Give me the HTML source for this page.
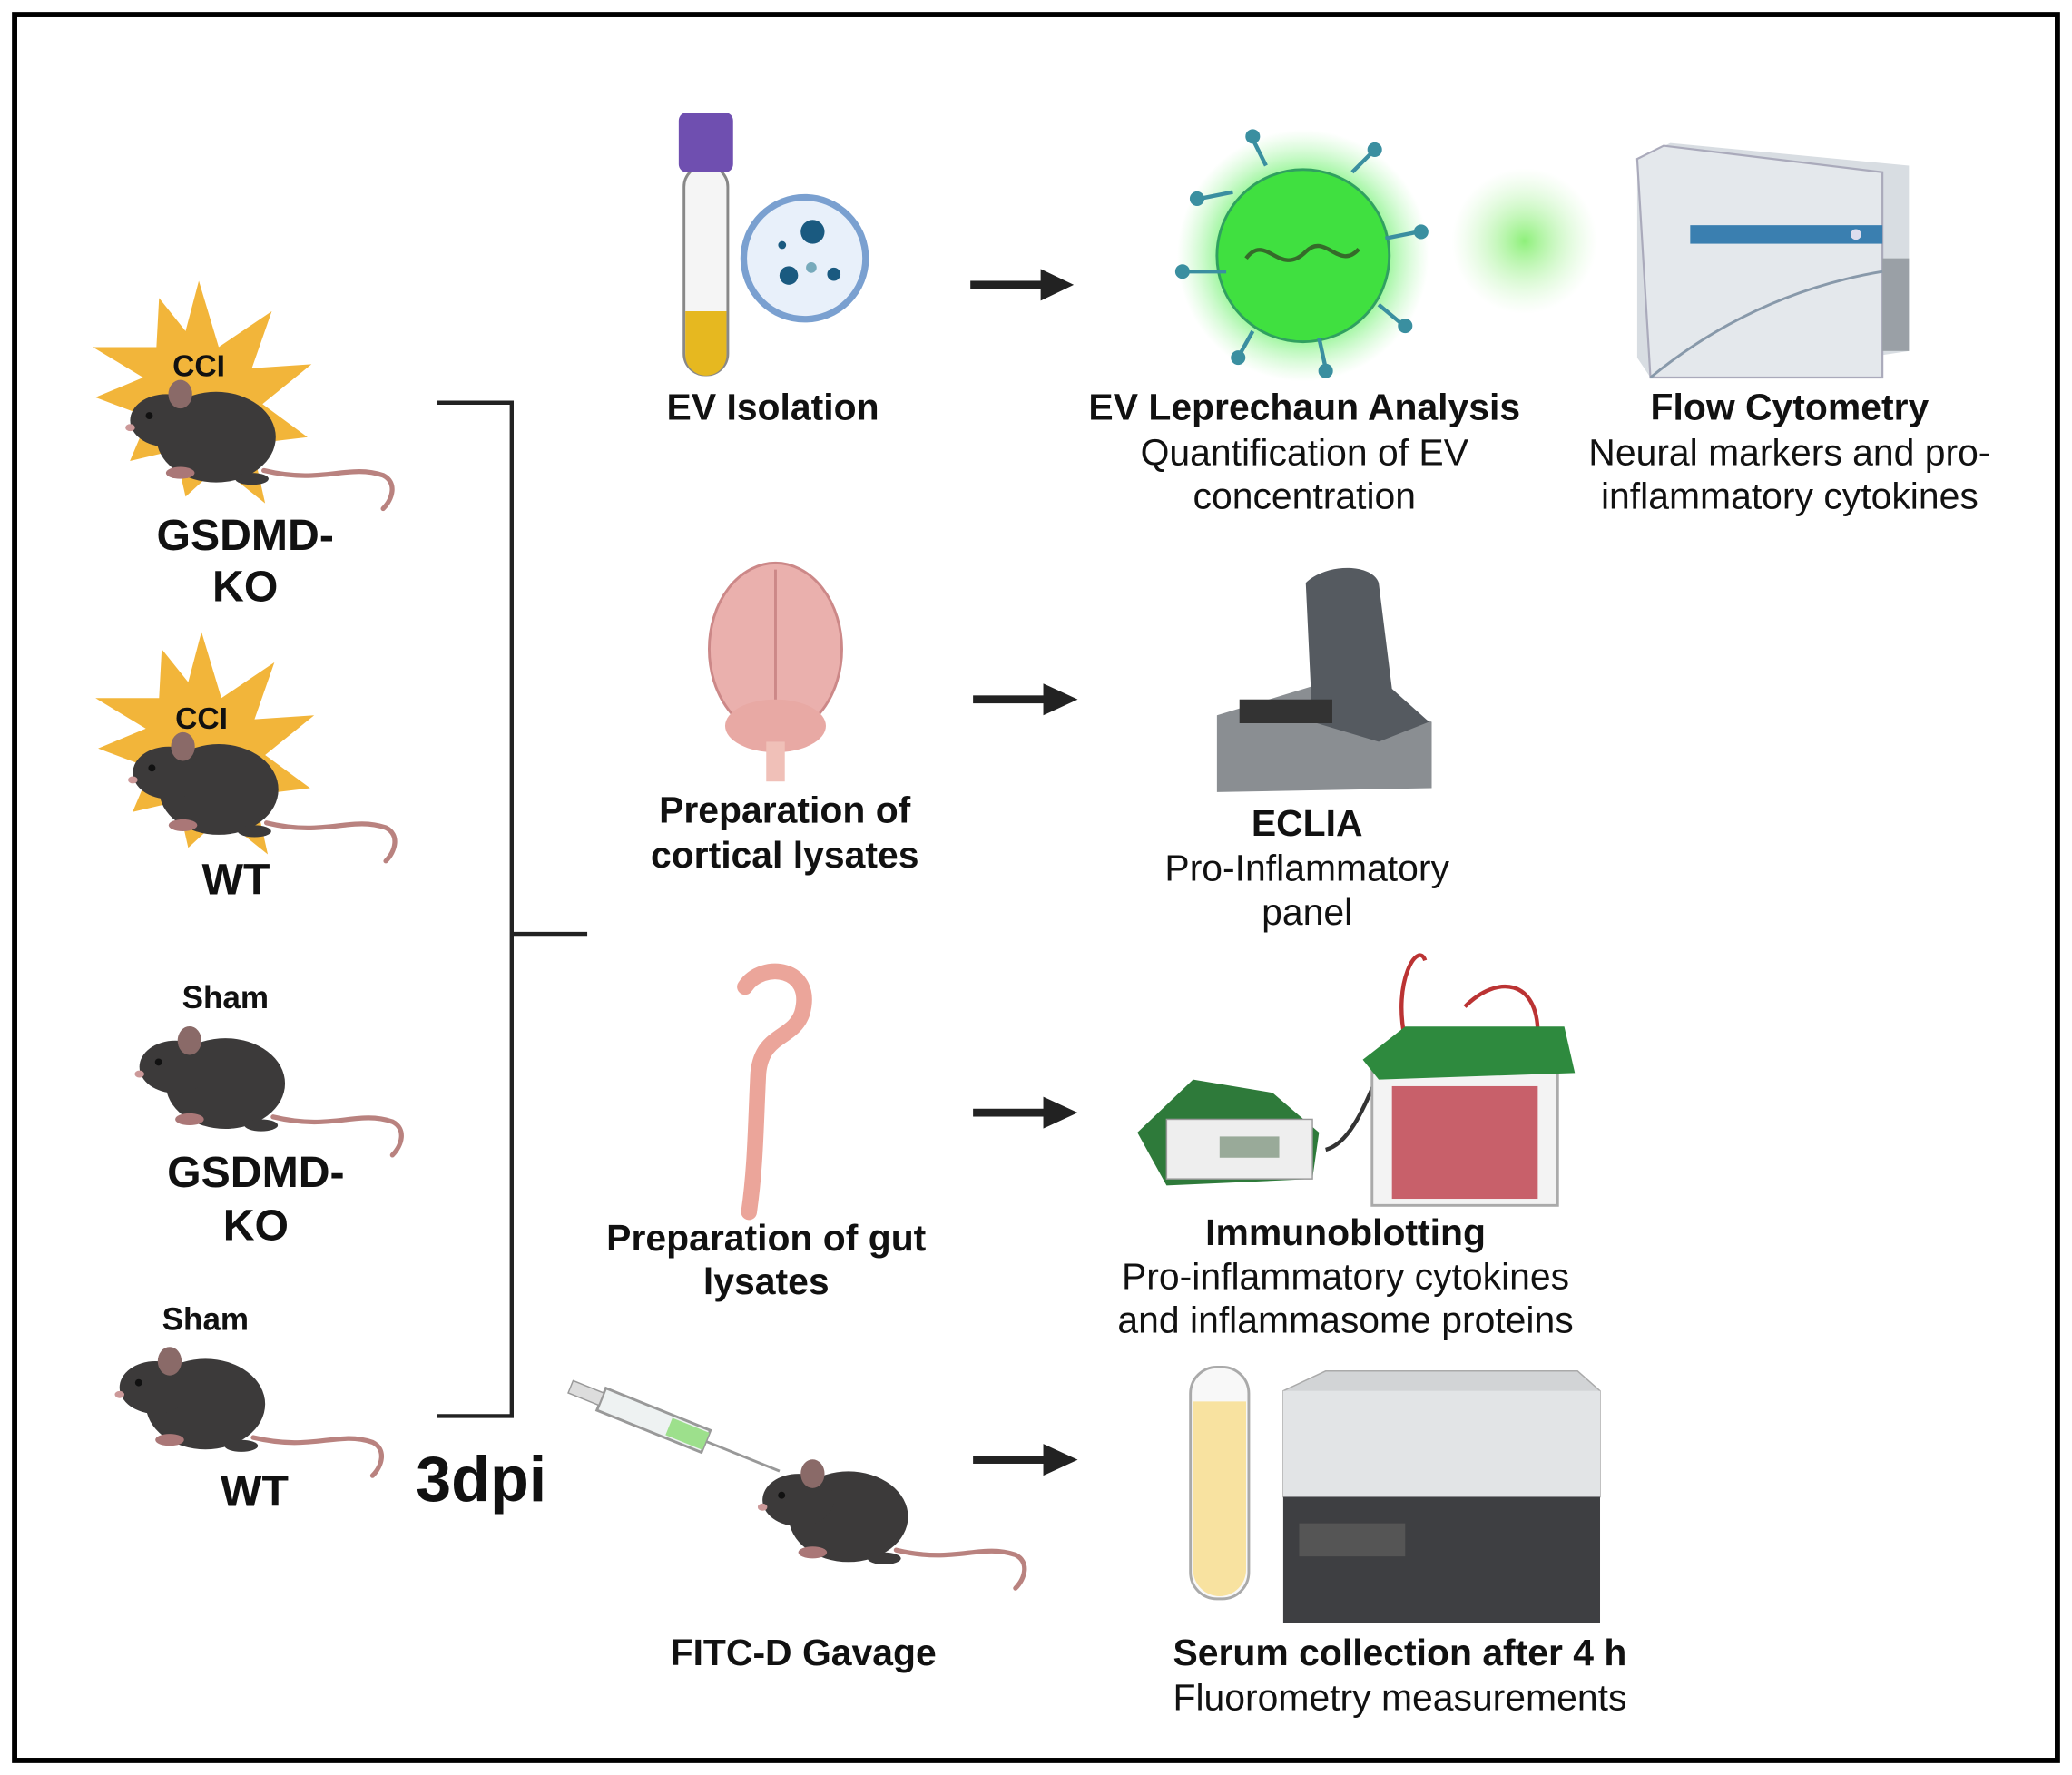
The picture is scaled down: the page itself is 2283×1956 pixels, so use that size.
<!DOCTYPE html>
<html><head><meta charset="utf-8"><style>
html,body{margin:0;padding:0;background:#fff}
svg{display:block}
text{font-family:"Liberation Sans",Arial,sans-serif;fill:#111}
.b{font-weight:bold}
</style></head><body>
<svg width="2283" height="1956" viewBox="0 0 1563 1340" preserveAspectRatio="none" xmlns="http://www.w3.org/2000/svg">
<defs>
<radialGradient id="glow"><stop offset="0" stop-color="#3ee83e"/><stop offset="0.6" stop-color="#5ef05e" stop-opacity="0.8"/><stop offset="1" stop-color="#9ff59f" stop-opacity="0"/></radialGradient>
<radialGradient id="glow2"><stop offset="0" stop-color="#8ef07a"/><stop offset="1" stop-color="#c8f7c0" stop-opacity="0"/></radialGradient>
<g id="mouse">
<path d="M40,28 C90,40 110,22 140,32 C152,38 148,52 140,60" fill="none" stroke="#b9827f" stroke-width="4" stroke-linecap="round"/>
<ellipse cx="0" cy="0" rx="50" ry="38" fill="#3c3a3a"/>
<ellipse cx="-42" cy="-14" rx="30" ry="22" fill="#3c3a3a"/>
<ellipse cx="-30" cy="-36" rx="10" ry="12" fill="#8a6a68"/>
<circle cx="-56" cy="-18" r="3" fill="#111"/>
<ellipse cx="-72" cy="-8" rx="4" ry="3" fill="#c99"/>
<ellipse cx="-30" cy="30" rx="12" ry="5" fill="#a77"/>
<ellipse cx="30" cy="35" rx="14" ry="5" fill="#3c3a3a"/>
</g>
</defs>
<rect x="0" y="0" width="1563" height="1340" fill="#fff"/>
<rect x="11" y="11" width="1541" height="1318" fill="none" stroke="#000" stroke-width="4"/>

<polygon fill="#f2b53a" points="150,212 165,262 205,235 190,278 235,275 198,305 232,330 190,335 200,380 165,352 140,375 132,340 98,348 112,315 72,300 108,285 70,262 118,262 120,225 140,250"/>
<polygon fill="#f2b53a" points="152,477 167,527 207,500 192,543 237,540 200,570 234,595 192,600 202,645 167,617 142,640 134,605 100,613 114,580 74,565 110,550 72,527 120,527 122,490 142,515"/>
<text x="150" y="284" font-size="23" class="b" text-anchor="middle">CCI</text>
<text x="152" y="550" font-size="23" class="b" text-anchor="middle">CCI</text>

<use href="#mouse" transform="translate(163,330) scale(0.9)"/>
<use href="#mouse" transform="translate(165,596) scale(0.9)"/>
<use href="#mouse" transform="translate(170,818) scale(0.9)"/>
<use href="#mouse" transform="translate(155,1060) scale(0.9)"/>
<use href="#mouse" transform="translate(640,1145) scale(0.9)"/>

<text x="185" y="415" font-size="33" class="b" text-anchor="middle">GSDMD-</text>
<text x="185" y="454" font-size="33" class="b" text-anchor="middle">KO</text>
<text x="178" y="675" font-size="33" class="b" text-anchor="middle">WT</text>
<text x="170" y="761" font-size="24" class="b" text-anchor="middle">Sham</text>
<text x="193" y="896" font-size="33" class="b" text-anchor="middle">GSDMD-</text>
<text x="193" y="936" font-size="33" class="b" text-anchor="middle">KO</text>
<text x="155" y="1004" font-size="24" class="b" text-anchor="middle">Sham</text>
<text x="192" y="1137" font-size="33" class="b" text-anchor="middle">WT</text>
<text x="363" y="1133" font-size="48" class="b" text-anchor="middle">3dpi</text>

<path d="M330,304 H386 V1069 H330 M386,705 H443" fill="none" stroke="#222" stroke-width="3"/>

<rect x="516" y="125" width="33" height="158" rx="16" fill="#f5f5f5" stroke="#888" stroke-width="2"/>
<path d="M517,235 H548 V268 A15.5,15.5 0 0 1 517,268 Z" fill="#e6b820"/>
<rect x="512" y="85" width="41" height="45" rx="6" fill="#6f4fb0"/>
<circle cx="607" cy="195" r="46" fill="#e8f0fa" stroke="#7aa0d0" stroke-width="5"/>
<circle cx="613" cy="175" r="9" fill="#1a5a80"/><circle cx="595" cy="208" r="7" fill="#1a5a80"/><circle cx="629" cy="207" r="5" fill="#1a5a80"/><circle cx="612" cy="202" r="4" fill="#7ab"/><circle cx="590" cy="185" r="3" fill="#1a5a80"/>
<text x="583" y="317" font-size="28" class="b" text-anchor="middle">EV Isolation</text>

<g fill="#222">
<rect x="732" y="212" width="55" height="6"/><polygon points="785,203 810,215 785,227"/>
<rect x="734" y="525" width="55" height="6"/><polygon points="787,516 813,528 787,540"/>
<rect x="734" y="837" width="55" height="6"/><polygon points="787,828 813,840 787,852"/>
<rect x="734" y="1099" width="55" height="6"/><polygon points="787,1090 813,1102 787,1114"/>
</g>

<circle cx="983" cy="193" r="95" fill="url(#glow)"/>
<circle cx="983" cy="193" r="65" fill="#40e040" stroke="#30a060" stroke-width="2"/>
<path d="M940,195 C955,175 965,210 985,190 C1000,175 1010,205 1025,188" fill="none" stroke="#356b2a" stroke-width="3"/>
<g stroke="#3a8fa0" stroke-width="3" fill="#3a8fa0">
<line x1="930" y1="145" x2="905" y2="150"/><circle cx="903" cy="150" r="4"/>
<line x1="955" y1="125" x2="945" y2="105"/><circle cx="945" cy="103" r="4"/>
<line x1="1020" y1="130" x2="1035" y2="115"/><circle cx="1037" cy="113" r="4"/>
<line x1="1045" y1="180" x2="1070" y2="175"/><circle cx="1072" cy="175" r="4"/>
<line x1="1040" y1="230" x2="1058" y2="245"/><circle cx="1060" cy="246" r="4"/>
<line x1="995" y1="255" x2="1000" y2="278"/><circle cx="1000" cy="280" r="4"/>
<line x1="945" y1="250" x2="935" y2="268"/><circle cx="934" cy="270" r="4"/>
<line x1="925" y1="205" x2="895" y2="205"/><circle cx="892" cy="205" r="4"/>
</g>
<circle cx="1150" cy="182" r="55" fill="url(#glow2)"/>
<text x="984" y="317" font-size="28" class="b" text-anchor="middle">EV Leprechaun Analysis</text>
<text x="984" y="351" font-size="28" text-anchor="middle">Quantification of EV</text>
<text x="984" y="384" font-size="28" text-anchor="middle">concentration</text>

<polygon points="1235,120 1260,108 1440,125 1440,265 1420,268 1420,285 1245,285 1235,270" fill="#d8dde2"/>
<polygon points="1235,120 1255,110 1420,130 1420,285 1245,285" fill="#e4e8ec" stroke="#aab" stroke-width="1.5"/>
<rect x="1420" y="195" width="20" height="70" fill="#9aa0a6"/>
<rect x="1275" y="170" width="145" height="14" fill="#3a7fb0"/>
<circle cx="1400" cy="177" r="4" fill="#dde"/>
<path d="M1245,285 C1300,240 1360,215 1420,205" fill="none" stroke="#89a" stroke-width="2"/>
<text x="1350" y="317" font-size="28" class="b" text-anchor="middle">Flow Cytometry</text>
<text x="1350" y="351" font-size="28" text-anchor="middle">Neural markers and pro-</text>
<text x="1350" y="384" font-size="28" text-anchor="middle">inflammatory cytokines</text>

<ellipse cx="585" cy="490" rx="50" ry="65" fill="#eab0ad" stroke="#c88" stroke-width="2"/>
<line x1="585" y1="430" x2="585" y2="555" stroke="#c88" stroke-width="2"/>
<ellipse cx="585" cy="548" rx="38" ry="20" fill="#e8a9a4"/>
<rect x="578" y="560" width="14" height="30" fill="#f0c0b8"/>
<text x="592" y="621" font-size="28" class="b" text-anchor="middle">Preparation of</text>
<text x="592" y="655" font-size="28" class="b" text-anchor="middle">cortical lysates</text>

<polygon points="918,540 1000,515 1080,545 1080,595 918,598" fill="#8a8e92"/>
<path d="M985,440 C1000,425 1035,425 1040,440 L1050,520 L1078,545 L1040,560 L990,545 Z" fill="#555a60"/>
<rect x="935" y="528" width="70" height="18" fill="#333"/>
<text x="986" y="631" font-size="28" class="b" text-anchor="middle">ECLIA</text>
<text x="986" y="665" font-size="28" text-anchor="middle">Pro-Inflammatory</text>
<text x="986" y="698" font-size="28" text-anchor="middle">panel</text>

<path d="M562,745 C575,725 615,730 605,765 C598,785 575,780 572,810 C570,850 570,880 565,915" fill="none" stroke="#eba59a" stroke-width="12" stroke-linecap="round"/>
<text x="578" y="944" font-size="28" class="b" text-anchor="middle">Preparation of gut</text>
<text x="578" y="977" font-size="28" class="b" text-anchor="middle">lysates</text>

<path d="M1060,785 C1050,740 1070,710 1075,725 M1160,780 C1160,740 1130,735 1105,760" fill="none" stroke="#b33" stroke-width="3"/>
<path d="M1000,868 C1030,860 1040,790 1060,780" fill="none" stroke="#333" stroke-width="3"/>
<rect x="1035" y="800" width="140" height="110" fill="#f3f3f3" stroke="#aaa" stroke-width="2"/>
<rect x="1050" y="820" width="110" height="85" fill="#c8606a"/>
<polygon points="1028,800 1060,775 1180,775 1188,810 1040,815" fill="#2e8a3e"/>
<polygon points="858,855 900,815 960,825 995,855 990,890 880,895" fill="#2e7a3a"/>
<rect x="880" y="845" width="110" height="45" fill="#eee" stroke="#999"/>
<rect x="920" y="858" width="45" height="16" fill="#9a9"/>
<text x="1015" y="940" font-size="28" class="b" text-anchor="middle">Immunoblotting</text>
<text x="1015" y="973" font-size="28" text-anchor="middle">Pro-inflammatory cytokines</text>
<text x="1015" y="1006" font-size="28" text-anchor="middle">and inflammasome proteins</text>

<g transform="rotate(22 500 1075)">
<rect x="450" y="1066" width="85" height="18" fill="#eef2f2" stroke="#999" stroke-width="2"/>
<rect x="505" y="1068" width="30" height="14" fill="#9de08c"/>
<rect x="425" y="1070" width="25" height="10" fill="#ddd" stroke="#999"/>
<line x1="535" y1="1075" x2="595" y2="1075" stroke="#999" stroke-width="2"/>
</g>
<text x="606" y="1257" font-size="28" class="b" text-anchor="middle">FITC-D Gavage</text>

<rect x="898" y="1032" width="44" height="175" rx="20" fill="#f8f8f8" stroke="#aaa" stroke-width="2"/>
<path d="M900,1058 H940 V1185 A20,20 0 0 1 900,1185 Z" fill="#f8e2a0"/>
<polygon points="968,1050 1000,1035 1190,1035 1207,1050 1207,1130 968,1130" fill="#d2d4d6" stroke="#aaa"/>
<rect x="968" y="1050" width="239" height="80" fill="#e2e4e6"/>
<rect x="968" y="1130" width="239" height="95" fill="#3e3f42"/>
<rect x="980" y="1150" width="80" height="25" fill="#555"/>
<text x="1056" y="1257" font-size="28" class="b" text-anchor="middle">Serum collection after 4 h</text>
<text x="1056" y="1291" font-size="28" text-anchor="middle">Fluorometry measurements</text>
</svg>
</body></html>
